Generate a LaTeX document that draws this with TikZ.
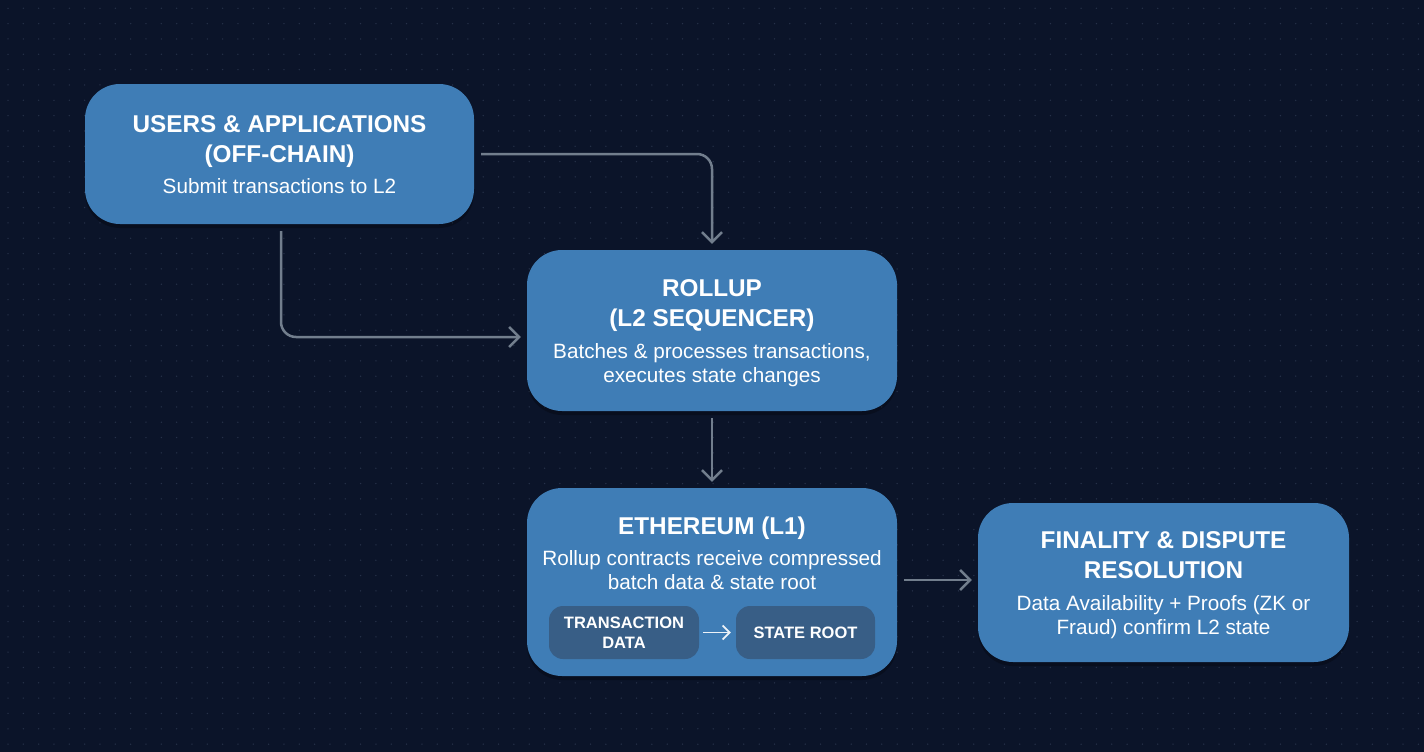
\documentclass[tikz,border=0pt]{standalone}
\usepackage{fontspec}
\setmainfont{Liberation Sans}
\usetikzlibrary{arrows.meta,shadows}
\definecolor{pageBg}{HTML}{0B1429}
\definecolor{gridDot}{HTML}{263149}
\definecolor{boxBlue}{HTML}{3F7DB6}
\definecolor{innerBlue}{HTML}{385E86}
\definecolor{flowGrey}{HTML}{727E8D}
\newcommand{\boxTitle}[1]{\textbf{\fontsize{24.3}{30}\selectfont #1}}
\newcommand{\boxNote}[1]{{\fontsize{20.7}{30}\selectfont #1}}
\newcommand{\innerLabel}[1]{\textbf{\fontsize{16.5}{20}\selectfont #1}}

\begin{document}
\begin{tikzpicture}[x=1pt, y=-1pt]
  \tikzset{
    stage/.style={fill=boxBlue, rounded corners=35pt, text=white, align=center, anchor=center,
      inner sep=0pt, font=\fontsize{24}{30}\selectfont,
      drop shadow={shadow xshift=0pt, shadow yshift=-4pt, fill=black, opacity=0.25}},
    innerbox/.style={fill=innerBlue, rounded corners=14pt, text=white, align=center,
      inner sep=0pt, font=\fontsize{16.5}{20}\selectfont},
    flow/.style={draw=flowGrey, line width=2.5pt, rounded corners=15pt,
      -{Straight Barb[length=10pt,width=20pt]}, shorten <=7pt, shorten >=6pt},
    innerflow/.style={draw=white!90!boxBlue, line width=1.8pt,
      -{Straight Barb[length=7pt,width=14pt]}, shorten <=4pt, shorten >=5pt}
  }
  \fill[pageBg] (0,0) rectangle (1424,752);
  \foreach \col in {0,...,92}
    \foreach \row in {0,...,48}
      \fill[gridDot] ({8+15.33*\col},{8.3+15.33*\row}) circle (0.75pt);

  \node[stage, minimum width=389pt, minimum height=140pt] (users) at (279.5,154) {};
  \node[text=white, align=center, inner sep=0pt, font=\fontsize{24}{30}\selectfont] (usersText) at (279.5,155)
    {\boxTitle{USERS \& APPLICATIONS}\\[0pt]\boxTitle{(OFF-CHAIN)}\\[1pt]\boxNote{Submit transactions to L2}};
  \node[stage, minimum width=370pt, minimum height=161pt] (rollup) at (712,330.5) {};
  \node[text=white, align=center, inner sep=0pt, font=\fontsize{24}{30}\selectfont] (rollupText) at (712,333.5)
    {\boxTitle{ROLLUP}\\[0pt]\boxTitle{(L2 SEQUENCER)}\\[2pt]\boxNote{Batches \& processes transactions,}\\[-6pt]\boxNote{executes state changes}};
  \node[stage, minimum width=370pt, minimum height=188pt] (ethereum) at (712,582) {};
  \node[text=white, align=center, inner sep=0pt, font=\fontsize{24}{30}\selectfont] (ethereumText) at (712,553)
    {\boxTitle{ETHEREUM (L1)}\\[1pt]\boxNote{Rollup contracts receive compressed}\\[-6pt]\boxNote{batch data \& state root}};
  \node[stage, minimum width=371pt, minimum height=159pt] (finality) at (1163.5,582.5) {};
  \node[text=white, align=center, inner sep=0pt, font=\fontsize{24}{30}\selectfont] (finalityText) at (1163.5,585.5)
    {\boxTitle{FINALITY \& DISPUTE}\\[0pt]\boxTitle{RESOLUTION}\\[2pt]\boxNote{Data Availability + Proofs (ZK or}\\[-6pt]\boxNote{Fraud) confirm L2 state}};
  \node[innerbox, minimum width=150pt, minimum height=53pt] (txdata) at (624,632.5)
    {\innerLabel{TRANSACTION}\\\innerLabel{DATA}};
  \node[innerbox, minimum width=139pt, minimum height=53pt] (stateroot) at (805.5,632.5)
    {\innerLabel{STATE ROOT}};

  \draw[flow] (users.east) -- (users.east -| rollup.north) -- (rollup.north);
  \draw[flow] ([xshift=1.5pt]users.south) |- ([yshift=-6.5pt]rollup.west);
  \draw[flow] (rollup.south) -- (ethereum.north);
  \draw[flow] ([yshift=2pt]ethereum.east) -- ([yshift=2pt]ethereum.east -| finality.west);
  \draw[innerflow] (txdata) -- (stateroot);
\end{tikzpicture}
\end{document}
